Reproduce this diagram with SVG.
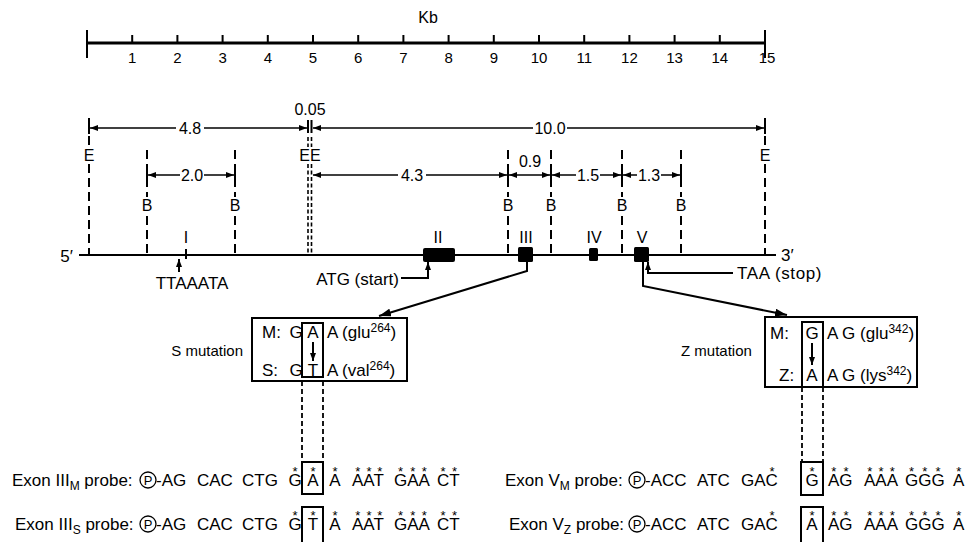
<svg xmlns="http://www.w3.org/2000/svg" width="966" height="542" viewBox="0 0 966 542">
<defs>
<style>
text{font-family:"Liberation Sans",Arial,"DejaVu Sans",sans-serif;fill:#000}
.s15{font-size:15px}
.s16{font-size:16px}
.s17{font-size:17px}
.m{text-anchor:middle}
.e{text-anchor:end}
.ln{stroke:#000;fill:none;stroke-width:2}
.dl{stroke:#000;fill:none;stroke-width:1.5}
.dash{stroke:#000;fill:none;stroke-width:2;stroke-dasharray:9 5}
.dd{stroke:#000;fill:none;stroke-width:1.6;stroke-dasharray:4 2.5}
.pd{stroke:#000;fill:none;stroke-width:1.8;stroke-dasharray:5 3}
.box{stroke:#000;fill:none;stroke-width:2}
.st{font-size:13px;text-anchor:middle}
.ex{fill:#000}
</style>
<marker id="a" viewBox="0 0 8 6" refX="8" refY="3" markerWidth="8" markerHeight="6" markerUnits="userSpaceOnUse" orient="auto-start-reverse"><path d="M0,0 L8,3 L0,6 z"/></marker>
<marker id="A" viewBox="0 0 12 8" refX="12" refY="4" markerWidth="12" markerHeight="8" markerUnits="userSpaceOnUse" orient="auto"><path d="M0,0 L12,4 L0,8 z"/></marker>
</defs>
<rect width="966" height="542" fill="#fff"/>

<g id="scale">
<text class="s16 m" x="428" y="23">Kb</text>
<line x1="87" y1="43" x2="765" y2="43" stroke="#000" stroke-width="3"/>
<path class="ln" d="M87,30V58 M765,30V58"/>
<path class="ln" stroke-width="1.6" d="M132.2,35V43 M177.4,35V43 M222.6,35V43 M267.8,35V43 M313,35V43 M358.2,35V43 M403.4,35V43 M448.6,35V43 M493.8,35V43 M539,35V43 M584.2,35V43 M629.4,35V43 M674.6,35V43 M719.8,35V43"/>
<g class="s15 m">
<text x="132.2" y="63">1</text><text x="177.4" y="63">2</text><text x="222.6" y="63">3</text><text x="267.8" y="63">4</text><text x="313" y="63">5</text><text x="358.2" y="63">6</text><text x="403.4" y="63">7</text><text x="448.6" y="63">8</text><text x="493.8" y="63">9</text><text x="539" y="63">10</text><text x="584.2" y="63">11</text><text x="629.4" y="63">12</text><text x="674.6" y="63">13</text><text x="719.8" y="63">14</text><text x="767" y="63">15</text>
</g>
</g>

<g id="sites">
<path class="ln" stroke-width="1.8" d="M89,118V134 M765,118V134"/>
<path class="dash" d="M89,136V147 M89,164V255 M765,136V147 M765,164V255"/>
<text class="s16 m" x="89" y="161">E</text>
<text class="s16 m" x="765" y="161">E</text>
<path class="ln" stroke-width="1.8" d="M308,120V133 M311.5,120V133"/>
<path class="dd" d="M308,137V147 M311.5,137V147 M308,164V255 M311.5,164V255"/>
<text class="s16 m" x="310" y="161">EE</text>
<path class="dash" d="M147,150V197 M147,216V255 M235,150V197 M235,216V255 M508,150V197 M508,216V255 M551,150V197 M551,216V255 M622,150V197 M622,216V255 M681,150V197 M681,216V255"/>
<path class="ln" stroke-width="1.8" d="M147,168V182 M235,168V182 M508,168V182 M551,168V182 M622,168V182 M681,168V182"/>
<g class="s16 m">
<text x="147" y="211">B</text><text x="235" y="211">B</text><text x="508" y="211">B</text><text x="551" y="211">B</text><text x="622" y="211">B</text><text x="681" y="211">B</text>
</g>
</g>

<g id="dimensions">
<path class="dl" marker-end="url(#a)" d="M176,128H90"/>
<path class="dl" marker-end="url(#a)" d="M204,128H307"/>
<path class="dl" marker-end="url(#a)" d="M533,128H313"/>
<path class="dl" marker-end="url(#a)" d="M567,128H764"/>
<path class="dl" marker-end="url(#a)" d="M180,175H148"/>
<path class="dl" marker-end="url(#a)" d="M204,175H234"/>
<path class="dl" marker-end="url(#a)" d="M398,175H313"/>
<path class="dl" marker-end="url(#a)" d="M426,175H507"/>
<path class="dl" marker-start="url(#a)" marker-end="url(#a)" d="M509,175H550"/>
<path class="dl" marker-end="url(#a)" d="M576,175H552"/>
<path class="dl" marker-end="url(#a)" d="M600,175H621"/>
<path class="dl" marker-end="url(#a)" d="M637,175H623"/>
<path class="dl" marker-end="url(#a)" d="M661,175H680"/>
<g class="s16 m">
<text x="310" y="115">0.05</text>
<text x="190" y="134">4.8</text>
<text x="550" y="134">10.0</text>
<text x="192" y="181">2.0</text>
<text x="412" y="181">4.3</text>
<text x="530" y="167">0.9</text>
<text x="588" y="181">1.5</text>
<text x="649" y="181">1.3</text>
</g>
</g>

<g id="gene">
<line x1="79" y1="255" x2="776" y2="255" stroke="#000" stroke-width="2.2"/>
<text class="s17 e" x="73" y="262">5′</text>
<text class="s17" x="781" y="261">3′</text>
<path class="ln" d="M186,249V259"/>
<rect class="ex" x="423" y="248" width="32" height="14" rx="2"/>
<rect class="ex" x="518" y="247" width="15" height="15" rx="1.5"/>
<rect class="ex" x="589" y="248" width="9" height="13" rx="1.5"/>
<rect class="ex" x="634" y="247" width="15" height="15" rx="1.5"/>
<g class="s16 m">
<text x="186" y="243">I</text><text x="438" y="243">II</text><text x="526" y="243">III</text><text x="594" y="243">IV</text><text x="642" y="243">V</text>
</g>
<text class="s17 m" x="192" y="289">TTAAATA</text>
<text class="s17 e" x="399" y="285">ATG (start)</text>
<text class="s17" x="737" y="279" letter-spacing="0.6">TAA (stop)</text>
</g>

<g id="connectors">
<path class="ln" stroke-width="1.8" marker-end="url(#a)" d="M179,272V259"/>
<path class="ln" stroke-width="1.8" marker-end="url(#a)" d="M401,278H428V262"/>
<path class="ln" stroke-width="1.8" marker-end="url(#a)" d="M733,273H648V262"/>
<path class="ln" marker-end="url(#A)" d="M527,262V271L379,316"/>
<path class="ln" marker-end="url(#A)" d="M643,262V286L787,315"/>
<path class="pd" d="M302,381V462 M323,381V462 M802,387V462 M823,387V462"/>
</g>

<g id="s-mutation">
<text class="s15 e" x="243" y="356">S mutation</text>
<rect class="box" x="252" y="318" width="155" height="63"/>
<rect class="box" x="302" y="323" width="21" height="54"/>
<text class="s17" x="262" y="338">M:</text>
<text class="s17 m" x="296" y="338">G</text>
<text class="s17 m" x="313" y="338">A</text>
<text class="s17" x="327" y="338">A (glu<tspan font-size="12" dy="-6">264</tspan><tspan dy="6">)</tspan></text>
<path class="ln" stroke-width="1.6" marker-end="url(#a)" d="M313,342V361"/>
<text class="s17" x="262" y="376">S:</text>
<text class="s17 m" x="296" y="376">G</text>
<text class="s17 m" x="313" y="376">T</text>
<text class="s17" x="327" y="376">A (val<tspan font-size="12" dy="-6">264</tspan><tspan dy="6">)</tspan></text>
</g>

<g id="z-mutation">
<text class="s15" x="681" y="356">Z mutation</text>
<rect class="box" x="765" y="317" width="152" height="70"/>
<rect class="box" x="802" y="322" width="21" height="65"/>
<text class="s17" x="770" y="339">M:</text>
<text class="s17 m" x="812" y="339">G</text>
<text class="s17" x="827" y="339">A G (glu<tspan font-size="12" dy="-6">342</tspan><tspan dy="6">)</tspan></text>
<path class="ln" stroke-width="1.6" marker-end="url(#a)" d="M812,343V365"/>
<text class="s17" x="779" y="381">Z:</text>
<text class="s17 m" x="812" y="381">A</text>
<text class="s17" x="827" y="381">A G (lys<tspan font-size="12" dy="-6">342</tspan><tspan dy="6">)</tspan></text>
</g>

<g id="probe-III-M">
<text class="s17" x="12" y="486">Exon III<tspan font-size="12" dy="4">M</tspan><tspan dy="-4"> probe:</tspan></text>
<circle cx="148" cy="480" r="8" fill="none" stroke="#000" stroke-width="1.3"/>
<text class="m" font-size="13" x="148" y="485">P</text>
<text class="s17" x="156" y="486">-AG</text>
<text class="s17" x="197" y="486">CAC</text>
<text class="s17" x="242" y="486">CTG</text>
<text class="s17 m" x="295" y="486">G</text>
<rect class="box" x="302" y="462" width="21" height="32"/>
<text class="s17 m" x="313" y="486">A</text>
<text class="s17 m" x="335" y="486">A</text>
<text class="s17" x="352" y="486">AAT</text>
<text class="s17" x="394" y="486">GAA</text>
<text class="s17" x="437" y="486">CT</text>
<text class="st" x="295 313 335 357.7 369 379.8 400.6 412.9 424.3 443.1 454.5" y="476">***********</text>
</g>

<g id="probe-III-S">
<text class="s17" x="15" y="530">Exon III<tspan font-size="12" dy="4">S</tspan><tspan dy="-4"> probe:</tspan></text>
<circle cx="148" cy="524" r="8" fill="none" stroke="#000" stroke-width="1.3"/>
<text class="m" font-size="13" x="148" y="529">P</text>
<text class="s17" x="156" y="530">-AG</text>
<text class="s17" x="197" y="530">CAC</text>
<text class="s17" x="242" y="530">CTG</text>
<text class="s17 m" x="295" y="530">G</text>
<rect class="box" x="302" y="507" width="21" height="37"/>
<text class="s17 m" x="313" y="530">T</text>
<text class="s17 m" x="335" y="530">A</text>
<text class="s17" x="352" y="530">AAT</text>
<text class="s17" x="394" y="530">GAA</text>
<text class="s17" x="437" y="530">CT</text>
<text class="st" x="295 313 335 357.7 369 379.8 400.6 412.9 424.3 443.1 454.5" y="520">***********</text>
</g>

<g id="probe-V-M">
<text class="s17" x="505" y="486">Exon V<tspan font-size="12" dy="4">M</tspan><tspan dy="-4"> probe:</tspan></text>
<circle cx="637" cy="480" r="8" fill="none" stroke="#000" stroke-width="1.3"/>
<text class="m" font-size="13" x="637" y="485">P</text>
<text class="s17" x="645" y="486">-ACC</text>
<text class="s17" x="697" y="486">ATC</text>
<text class="s17" x="741" y="486">GAC</text>
<rect class="box" x="801" y="462" width="22" height="33"/>
<text class="s17 m" x="812" y="486">G</text>
<text class="s17" x="828" y="486">AG</text>
<text class="s17" x="864" y="486">AAA</text>
<text class="s17" x="905" y="486">GGG</text>
<text class="s17" x="953" y="486">A</text>
<text class="st" x="772 812 833.7 846 869.7 881 892.3 911.6 924.8 938 958.7" y="476">***********</text>
</g>

<g id="probe-V-Z">
<text class="s17" x="509" y="530">Exon V<tspan font-size="12" dy="4">Z</tspan><tspan dy="-4"> probe:</tspan></text>
<circle cx="637" cy="524" r="8" fill="none" stroke="#000" stroke-width="1.3"/>
<text class="m" font-size="13" x="637" y="529">P</text>
<text class="s17" x="645" y="530">-ACC</text>
<text class="s17" x="697" y="530">ATC</text>
<text class="s17" x="741" y="530">GAC</text>
<rect class="box" x="801" y="507" width="22" height="37"/>
<text class="s17 m" x="812" y="530">A</text>
<text class="s17" x="828" y="530">AG</text>
<text class="s17" x="864" y="530">AAA</text>
<text class="s17" x="905" y="530">GGG</text>
<text class="s17" x="953" y="530">A</text>
<text class="st" x="772 812 833.7 846 869.7 881 892.3 911.6 924.8 938 958.7" y="520">***********</text>
</g>
</svg>
